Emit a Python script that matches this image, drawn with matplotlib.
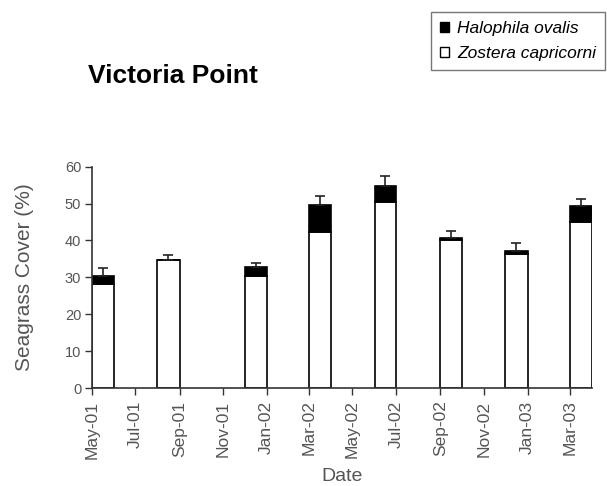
import datetime as dt
import numpy as np
import matplotlib
matplotlib.use("Agg")
import matplotlib.pyplot as plt
import matplotlib.dates as mdates
from matplotlib.patches import Patch

plt.rcParams['font.family'] = ['Liberation Sans', 'DejaVu Sans']

# monthly survey samples (first day of each sampled month)
months = ["2001-05", "2001-08", "2001-12", "2002-03", "2002-06", "2002-09", "2002-12", "2003-03"]
zostera = [28.2, 34.6, 30.5, 42.4, 50.4, 40.0, 36.2, 45.0]
halophila = [2.2, 0.0, 2.3, 7.2, 4.5, 0.8, 1.0, 4.4]
err = [2.1, 1.5, 1.1, 2.5, 2.6, 1.9, 2.2, 1.9]

starts = [dt.date(int(m[:4]), int(m[5:]), 1) for m in months]
ends = [dt.date(d.year + d.month // 12, d.month % 12 + 1, 1) for d in starts]
left = mdates.date2num(starts)
width = mdates.date2num(ends) - left
total = np.array(zostera) + np.array(halophila)

fig = plt.figure(figsize=(6.07, 4.86), dpi=100)
ax = fig.add_axes([0.151, 0.2016, 0.824, 0.4554])

ax.bar(left, zostera, width=width, align='edge', color='white', edgecolor='black', linewidth=1.2)
ax.bar(left, halophila, width=width, bottom=zostera, align='edge', color='black', edgecolor='black', linewidth=1.2)
ax.errorbar(left + width / 2, total, yerr=[np.zeros(len(err)), err], fmt='none',
            ecolor='#222222', elinewidth=1.2, capsize=3.6, capthick=1.2)

ax.set_xlim(mdates.date2num(dt.date(2001, 5, 1)), mdates.date2num(dt.date(2003, 4, 1)))
ax.set_ylim(0, 60)
ax.set_yticks(range(0, 61, 10))
ax.xaxis.set_major_locator(mdates.MonthLocator(bymonth=[1, 3, 5, 7, 9, 11]))
ax.xaxis.set_major_formatter(mdates.DateFormatter('%b-%y'))
ax.tick_params(axis='x', labelrotation=90, labelsize=12.5, colors='#333333', length=5, width=1, pad=4)
ax.tick_params(axis='y', labelsize=10.5, colors='#333333', length=5, width=1, pad=2.5)
for lab in ax.get_xticklabels() + ax.get_yticklabels():
    lab.set_color('#555555')

for side in ['top', 'right']:
    ax.spines[side].set_visible(False)
for side in ['left', 'bottom']:
    ax.spines[side].set_color('#333333')
    ax.spines[side].set_linewidth(1.2)

ax.set_ylabel('Seagrass Cover (%)', fontsize=15, color='#555555', labelpad=22)
ax.set_xlabel('Date', fontsize=14, color='#555555', labelpad=7)

fig.text(0.145, 0.829, 'Victoria Point', fontsize=19, fontweight='bold', ha='left', va='baseline')

handles = [Patch(facecolor='black', edgecolor='black', label='Halophila ovalis'),
           Patch(facecolor='white', edgecolor='black', label='Zostera capricorni')]
leg = fig.legend(handles=handles, loc='upper right', bbox_to_anchor=(0.997, 0.975),
                 prop={'style': 'italic', 'size': 12.5}, frameon=True, fancybox=False,
                 handlelength=0.5, handleheight=0.5, handletextpad=0.5,
                 borderpad=0.5, labelspacing=0.6, borderaxespad=0)
leg.get_frame().set_edgecolor('#555555')
leg.get_frame().set_linewidth(1.0)

fig.savefig('out.png', dpi=100)
